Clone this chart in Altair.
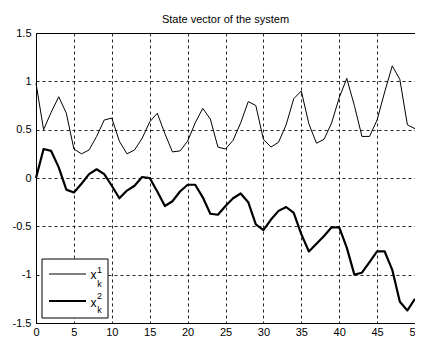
import altair as alt
import pandas as pd

title_text = "State vector of the system"
k = list(range(51))
x1 = [0.98, 0.50, 0.68, 0.84, 0.67, 0.30, 0.25, 0.29, 0.43, 0.60,
      0.62, 0.38, 0.25, 0.29, 0.41, 0.58, 0.67, 0.46, 0.27, 0.28,
      0.38, 0.57, 0.72, 0.61, 0.32, 0.30, 0.39, 0.57, 0.79, 0.75,
      0.40, 0.32, 0.37, 0.55, 0.82, 0.90, 0.56, 0.36, 0.40, 0.57,
      0.83, 1.03, 0.75, 0.43, 0.43, 0.60, 0.89, 1.16, 1.02, 0.55, 0.51]
x2 = [0.00, 0.30, 0.28, 0.11, -0.12, -0.15, -0.06, 0.04, 0.09, 0.04,
      -0.08, -0.21, -0.13, -0.08, 0.01, 0.00, -0.14, -0.29, -0.24, -0.14,
      -0.07, -0.07, -0.20, -0.37, -0.38, -0.29, -0.21, -0.16, -0.25, -0.48,
      -0.54, -0.43, -0.34, -0.30, -0.36, -0.58, -0.76, -0.68, -0.60, -0.51,
      -0.51, -0.72, -1.00, -0.98, -0.87, -0.76, -0.76, -0.95, -1.28, -1.37, -1.25]
series_names = ["x1", "x2"]
legend_sup = ["1", "2"]
x_ticks = list(range(0, 51, 5))
y_ticks = [-1.5, -1, -0.5, 0, 0.5, 1, 1.5]

FONT = "Liberation Sans"
W, H = 379, 290

df = pd.DataFrame({
    "k": k + k,
    "value": x1 + x2,
    "series": [series_names[0]] * len(k) + [series_names[1]] * len(k),
})

xenc = alt.X("k:Q", scale=alt.Scale(domain=[0, 50], nice=False),
             axis=alt.Axis(values=x_ticks, title=None, grid=True, labelPadding=3,
                           labelFlush=False, labelOverlap=False,
                           labelExpr="toString(datum.value)"))
yenc = alt.Y("value:Q", scale=alt.Scale(domain=[-1.5, 1.5], nice=False),
             axis=alt.Axis(values=y_ticks, title=None, grid=True, labelPadding=5,
                           labelFlush=False, labelOverlap=False,
                           labelExpr="toString(datum.value)"))

lines = alt.Chart(df).mark_line(color="black", strokeJoin="round").encode(
    x=xenc, y=yenc,
    strokeWidth=alt.StrokeWidth("series:N", scale=alt.Scale(domain=series_names, range=[1, 2.2]), legend=None),
    detail="series:N",
)

one = pd.DataFrame({"a": [0]})
box = alt.Chart(one).mark_rect(fill="white", stroke="black", strokeWidth=1).encode(
    x=alt.value(6), x2=alt.value(72), y=alt.value(H - 64), y2=alt.value(H - 5))
s1 = alt.Chart(one).mark_rule(color="black", strokeWidth=1).encode(
    x=alt.value(13), x2=alt.value(50), y=alt.value(H - 49))
s2 = alt.Chart(one).mark_rule(color="black", strokeWidth=2.2).encode(
    x=alt.value(13), x2=alt.value(50), y=alt.value(H - 22))

def txt(s, x, y, size):
    return alt.Chart(one).mark_text(font=FONT, fontSize=size, color="black",
                                    align="center", baseline="middle").encode(
        x=alt.value(x), y=alt.value(y), text=alt.value(s))

legend_text = [
    txt("x", 57.5, H - 48, 12), txt(legend_sup[0], 63.5, H - 53.5, 9), txt("k", 63.5, H - 39, 9),
    txt("x", 57.5, H - 20.5, 12), txt(legend_sup[1], 63.5, H - 27.5, 9), txt("k", 63.5, H - 13.5, 9),
]

chart = alt.layer(lines, box, s1, s2, *legend_text).properties(
    width=W, height=H,
    title=alt.TitleParams(title_text, font=FONT, fontSize=11, fontWeight="normal",
                          color="black", offset=2, frame="group"),
    padding={"left": 28, "top": 25, "right": 0, "bottom": 14},
    autosize=alt.AutoSizeParams(type="none"),
).configure_view(stroke="black", strokeWidth=1).configure_axis(
    labelFont=FONT, labelFontSize=11, labelColor="black",
    tickSize=0, domain=False,
    gridColor="black", gridDash=[3, 3], gridWidth=1, gridOpacity=0.85,
)

chart.save("out.html", embed_options={"renderer": "svg", "actions": False})
